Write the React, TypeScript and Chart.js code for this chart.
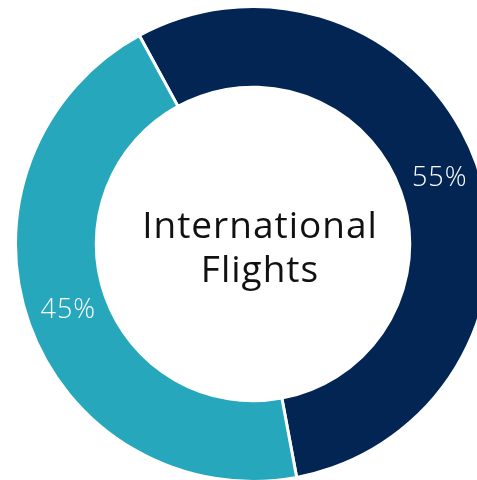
import React, { useEffect, useRef } from "react";
import { Chart, registerables } from "chart.js";

Chart.register(...registerables);

const categories = ["Navy", "Teal"];
const values = [55, 45];
const colors = ["#022554", "#27A7BC"];
const centerLines = ["International", "Flights"];

const labelPlugin = {
  id: "labels",
  afterDatasetsDraw(chart: any) {
    const ctx = chart.ctx;
    const meta = chart.getDatasetMeta(0);
    ctx.save();
    ctx.fillStyle = "#ffffff";
    ctx.font = "300 27px 'Open Sans', sans-serif";
    (ctx as any).letterSpacing = "1px";
    ctx.textAlign = "center";
    ctx.textBaseline = "middle";
    meta.data.forEach((arc: any, i: number) => {
      const p = arc.tooltipPosition();
      ctx.fillText(values[i] + "%", p.x + 1, p.y);
    });
    const a = meta.data[0];
    ctx.fillStyle = "#111111";
    ctx.font = "400 37px 'Open Sans', sans-serif";
    (ctx as any).letterSpacing = "1px";
    ctx.textBaseline = "alphabetic";
    ctx.fillText(centerLines[0], a.x + 7, a.y - 6);
    ctx.fillText(centerLines[1], a.x + 7, a.y + 38);
    ctx.restore();
  },
};

export default function App() {
  const ref = useRef<HTMLCanvasElement>(null);
  useEffect(() => {
    document.body.style.margin = "0";
    const chart = new Chart(ref.current!, {
      type: "doughnut",
      data: {
        labels: categories,
        datasets: [
          {
            data: values,
            backgroundColor: colors,
            borderColor: "#ffffff",
            borderWidth: 3,
          },
        ],
      },
      options: {
        animation: false,
        responsive: false,
        rotation: -28.6,
        cutout: "66%",
        plugins: { legend: { display: false }, tooltip: { enabled: false } },
        layout: { padding: 0 },
      },
      plugins: [labelPlugin],
    });
    return () => chart.destroy();
  }, []);
  return (
    <div style={{ position: "fixed", left: 0, top: 0, width: 477, height: 480, overflow: "hidden", background: "#fff" }}>
      <canvas ref={ref} width={478} height={478} style={{ position: "absolute", left: 14, top: 5 }} />
    </div>
  );
}
